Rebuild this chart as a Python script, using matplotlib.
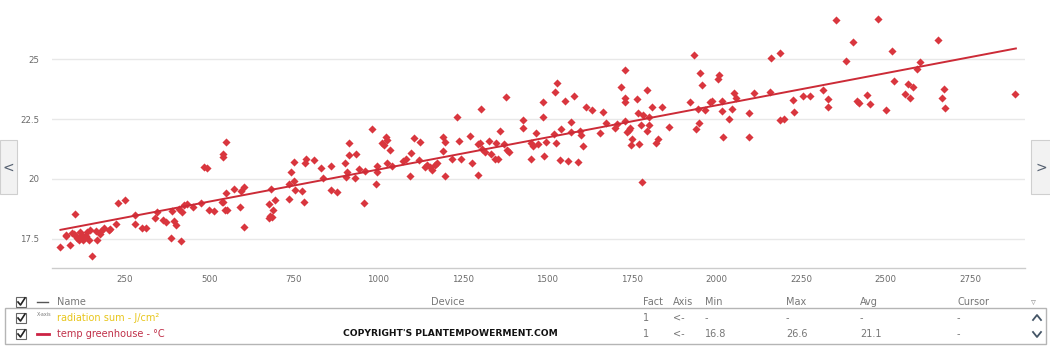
import matplotlib
matplotlib.use("Agg")
import matplotlib.pyplot as plt
from matplotlib.patches import Rectangle
from matplotlib.lines import Line2D
import numpy as np

# ---- data ----
radiation = [59, 75, 76, 88, 103, 92, 99, 105, 109, 114, 117, 120, 123, 127, 130, 134, 142, 139, 146, 152,
             167, 164, 175, 178, 189, 202, 207, 223, 228, 249, 280, 280, 299, 312, 338, 345, 362, 370, 385, 389,
             394, 400, 409, 416, 419, 424, 432, 450, 476, 485, 493, 499, 514, 538, 540, 541, 541, 549, 548, 547,
             552, 572, 591, 594, 601, 601, 676, 679, 681, 684, 676, 689, 693, 736, 736, 742, 750, 749, 753, 773,
             780, 784, 785, 809, 831, 836, 859, 859, 878, 901, 903, 906, 912, 913, 931, 933, 942, 958, 961, 981,
             992, 995, 996, 1011, 1016, 1022, 1026, 1024, 1034, 1039, 1072, 1080, 1094, 1096, 1106, 1124, 1121,
             1138, 1143, 1152, 1157, 1167, 1173, 1192, 1196, 1198, 1190, 1219, 1232, 1237, 1244, 1271, 1277, 1294,
             1294, 1300, 1304, 1307, 1315, 1326, 1334, 1344, 1349, 1355, 1361, 1371, 1378, 1379, 1386, 1427, 1427,
             1451, 1450, 1457, 1466, 1471, 1488, 1487, 1489, 1497, 1518, 1522, 1524, 1529, 1537, 1540, 1553, 1560,
             1569, 1571, 1578, 1589, 1596, 1598, 1606, 1614, 1633, 1654, 1664, 1674, 1701, 1705, 1717, 1729, 1729,
             1729, 1730, 1736, 1740, 1745, 1750, 1746, 1764, 1767, 1770, 1779, 1778, 1784, 1795, 1795, 1799, 1799,
             1808, 1822, 1827, 1838, 1859, 1922, 1934, 1940, 1944, 1948, 1952, 1958, 1966, 1982, 1988, 2005, 2008,
             2016, 2017, 2019, 2037, 2045, 2053, 2057, 2096, 2096, 2110, 2158, 2162, 2188, 2189, 2199, 2227, 2230,
             2257, 2277, 2316, 2329, 2329, 2353, 2383, 2404, 2417, 2421, 2446, 2453, 2478, 2503, 2520, 2525, 2559,
             2566, 2574, 2583, 2592, 2602, 2656, 2667, 2674, 2677, 2884]
temperature = [17.16, 17.68, 17.64, 17.25, 18.56, 17.75, 17.70, 17.61, 17.54, 17.47, 17.77, 17.58, 17.68, 17.44,
               17.52, 17.61, 17.47, 17.77, 17.87, 16.78, 17.44, 17.84, 17.69, 17.82, 17.94, 17.89, 17.93, 18.13,
               18.98, 19.13, 18.51, 18.12, 17.95, 17.95, 18.37, 18.61, 18.27, 18.19, 17.54, 18.68, 18.26, 18.09,
               18.74, 17.43, 18.62, 18.91, 18.94, 18.83, 18.98, 20.48, 20.44, 18.72, 18.68, 19.06, 19.06, 21.05,
               20.91, 21.55, 19.41, 18.72, 18.69, 19.58, 18.83, 19.52, 19.66, 18.00, 18.37, 18.47, 19.58, 18.43,
               18.97, 18.69, 19.13, 19.16, 19.79, 20.28, 20.69, 19.90, 19.55, 19.51, 19.04, 20.66, 20.84, 20.78,
               20.45, 20.06, 20.56, 19.55, 19.45, 20.66, 20.08, 20.31, 21.01, 21.52, 20.03, 21.06, 20.41, 18.98,
               20.34, 22.10, 19.81, 20.31, 20.56, 21.49, 21.41, 21.77, 21.63, 20.66, 21.21, 20.56, 20.73, 20.83,
               20.13, 21.08, 21.71, 21.53, 20.80, 20.52, 20.59, 20.52, 20.38, 20.59, 20.66, 21.73, 21.53, 20.13,
               21.17, 20.83, 22.60, 21.59, 20.85, 21.78, 20.66, 20.15, 21.46, 21.49, 22.93, 21.27, 21.14, 21.59,
               21.06, 20.83, 21.50, 20.85, 21.99, 21.45, 23.40, 21.21, 21.14, 22.45, 22.11,
               21.52, 20.83, 21.38, 21.91, 21.46, 23.22, 22.60, 20.94, 21.55, 21.88, 23.64, 21.49, 23.99, 20.80,
               22.07, 23.25, 20.77, 22.39, 21.95, 23.45, 20.70, 22.00, 21.82, 21.38, 22.98, 22.88, 21.91, 22.78,
               22.35, 22.12, 22.28, 23.82, 22.41, 23.36, 23.22, 24.56, 21.94, 22.05, 22.12, 21.66, 21.41, 23.32,
               22.74, 21.46, 19.87, 22.25, 22.67, 23.70, 21.98, 22.59, 22.25, 23.02, 21.49, 21.66, 23.02, 22.17,
               23.22, 25.15, 22.07, 22.91, 22.32, 24.43, 23.92, 22.88, 23.22, 23.27, 24.15, 24.32, 22.84, 23.25,
               21.75, 22.52, 22.91, 23.57, 23.36, 22.77, 21.73, 23.60, 23.61, 25.03, 22.46, 25.26, 22.52, 23.31,
               22.80, 23.45, 23.45, 23.70, 23.32, 23.00, 26.62, 24.90, 25.71, 23.27, 23.18, 23.50, 23.14, 26.65,
               22.86, 25.32, 24.09, 23.56, 23.97, 23.36, 23.82, 24.60, 24.88, 25.79, 23.36, 23.75, 22.96, 23.53]
trend_x = [59, 2886]
trend_y = [17.88, 25.44]

x_ticks = [250, 500, 750, 1000, 1250, 1500, 1750, 2000, 2250, 2500, 2750]
y_ticks = [17.5, 20, 22.5, 25]
y_tick_labels = ["17.5", "20", "22.5", "25"]

header = ["Name", "Device", "Fact", "Axis", "Min", "Max", "Avg", "Cursor"]
row1 = ["radiation sum - J/cm²", "", "1", "<-", "-", "-", "-", "-"]
row2 = ["temp greenhouse - °C", "", "1", "<-", "16.8", "26.6", "21.1", "-"]

W, H = 1050, 348
fig = plt.figure(figsize=(W / 100, H / 100), dpi=100)
fig.patch.set_facecolor("white")

def fx(px):
    return px / W

def fy(py):
    return 1 - py / H

ax = fig.add_axes([fx(52), fy(268), fx(1025) - fx(52), 268 / H])
ax.set_xlim(34, 2913)
ax.set_ylim(16.29, 27.46)
for s in ["top", "right", "left"]:
    ax.spines[s].set_visible(False)
ax.spines["bottom"].set_color("#cccccc")
ax.spines["bottom"].set_linewidth(1)
ax.set_yticks(y_ticks)
ax.set_yticklabels(y_tick_labels)
ax.set_xticks(x_ticks)
ax.tick_params(axis="both", length=0, labelsize=6.2, labelcolor="#6a6a6a")
ax.tick_params(axis="y", pad=9)
ax.tick_params(axis="x", pad=5)
ax.grid(axis="y", color="#e8e8e8", linewidth=1)
ax.set_axisbelow(True)

ax.scatter(radiation, temperature, marker="D", s=17, color="#d9363e", linewidths=0, zorder=3)
ax.plot(trend_x, trend_y, color="#cc2b37", linewidth=1.4, zorder=4)

# navigation buttons
for x0, x1, ch in [(0, 17, "<"), (1031, 1052, ">")]:
    fig.add_artist(Rectangle((fx(x0), fy(194)), fx(x1) - fx(x0), 54 / H, transform=fig.transFigure,
                             facecolor="#f2f2f2", edgecolor="#cfcfcf", linewidth=0.8))
    fig.text(fx((x0 + x1) / 2), fy(168), ch, ha="center", va="center", fontsize=10, color="#556070")

# legend table
fig.add_artist(Rectangle((fx(5), fy(344)), fx(1046) - fx(5), 36 / H, transform=fig.transFigure,
                         facecolor="none", edgecolor="#b5b5b5", linewidth=1))

def checkbox(yc):
    fig.add_artist(Rectangle((fx(16), fy(yc + 5)), fx(10), 10 / H, transform=fig.transFigure,
                             facecolor="white", edgecolor="#666666", linewidth=0.8))
    fig.add_artist(Line2D([fx(18), fx(20.5), fx(25)], [fy(yc), fy(yc + 3), fy(yc - 4)],
                          transform=fig.transFigure, color="#222222", linewidth=1.2))

col_x = [57, 431, 643, 673, 705, 786, 860, 957]
gray = "#777777"
fs = 7

checkbox(302)
fig.add_artist(Line2D([fx(37), fx(48)], [fy(302), fy(302)], transform=fig.transFigure, color="#555555", linewidth=1))
for cx, t in zip(col_x, header):
    fig.text(fx(cx), fy(302), t, ha="left", va="center", fontsize=fs, color=gray)
fig.text(fx(1033), fy(302), "▿", ha="center", va="center", fontsize=7, color="#999999")

checkbox(318)
fig.text(fx(37), fy(314), "X-axis", ha="left", va="center", fontsize=3.5, color=gray)
fig.text(fx(col_x[0]), fy(318), row1[0], ha="left", va="center", fontsize=fs, color="#e8c61c")
for cx, t in zip(col_x[2:], row1[2:]):
    fig.text(fx(cx), fy(318), t, ha="left", va="center", fontsize=fs, color=gray)

checkbox(334)
fig.add_artist(Line2D([fx(37), fx(49)], [fy(334), fy(334)], transform=fig.transFigure, color="#cc2244", linewidth=2))
fig.text(fx(col_x[0]), fy(334), row2[0], ha="left", va="center", fontsize=fs, color="#c03049")
for cx, t in zip(col_x[2:], row2[2:]):
    fig.text(fx(cx), fy(334), t, ha="left", va="center", fontsize=fs, color=gray)

fig.text(fx(343), fy(334), "COPYRIGHT'S PLANTEMPOWERMENT.COM", ha="left", va="center",
         fontsize=6.6, fontweight="bold", color="#111111")

# scroll arrows
fig.add_artist(Line2D([fx(1033), fx(1037), fx(1041)], [fy(320), fy(315), fy(320)],
                      transform=fig.transFigure, color="#445566", linewidth=1.3))
fig.add_artist(Line2D([fx(1033), fx(1037), fx(1041)], [fy(332), fy(337), fy(332)],
                      transform=fig.transFigure, color="#445566", linewidth=1.3))

fig.savefig("out.png", dpi=100, facecolor="white")
